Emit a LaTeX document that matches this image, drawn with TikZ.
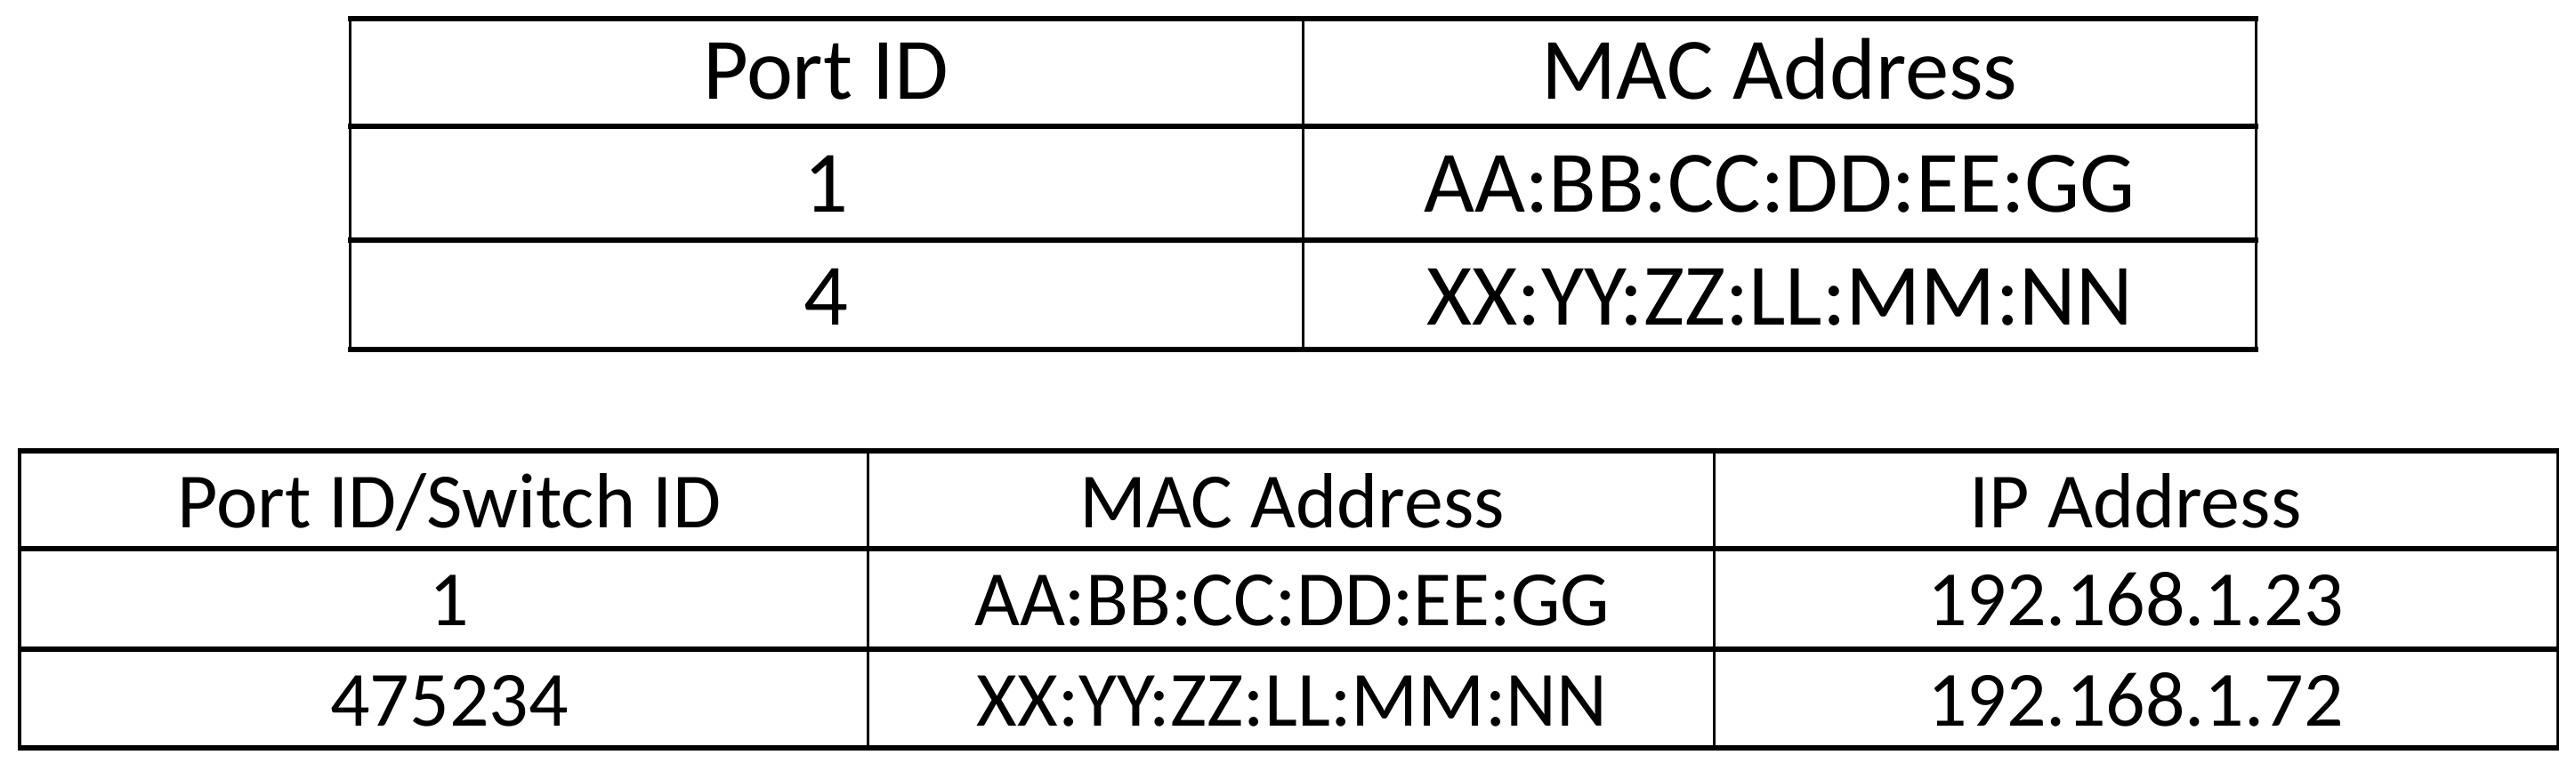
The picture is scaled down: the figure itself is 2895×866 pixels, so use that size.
\documentclass[tikz,border=0pt]{standalone}
\usepackage{fontspec}
\setmainfont{Carlito}
\begin{document}
\begin{tikzpicture}[x=0.01cm,y=-0.01cm,
  thick line/.style={line width=0.055cm},
  thin line/.style={line width=0.03cm},
  cell/.style={font=\fontsize{28}{30}\selectfont, inner sep=0pt, anchor=base},
  bcell/.style={font=\fontsize{25}{27}\selectfont, inner sep=0pt, anchor=base}]
\useasboundingbox (0,0) rectangle (2895,866);
% top table
\foreach \y in {21,142,270,393} \draw[thick line] (391,\y) -- (2538,\y);
\foreach \x in {393,1464,2535} \draw[thin line] (\x,21) -- (\x,393);
\node[cell] (t11) at (928,111) {Port ID};
\node[cell] (t12) at (2000,111) {MAC Address};
\node[cell] (t21) at (928,238) {1};
\node[cell] (t22) at (2000,238) {AA:BB:CC:DD:EE:GG};
\node[cell] (t31) at (928,365) {4};
\node[cell] (t32) at (2000,365) {XX:YY:ZZ:LL:MM:NN};
% bottom table
\foreach \y in {507,617,730,841} \draw[thick line] (20,\y) -- (2876,\y);
\foreach \x in {22,975,1926,2874} \draw[thin line] (\x,507) -- (\x,841);
\node[bcell] (b11) at (505,593) {Port ID/Switch ID};
\node[bcell] (b12) at (1452,593) {MAC Address};
\node[bcell] (b13) at (2400,593) {IP Address};
\node[bcell] (b21) at (505,703) {1};
\node[bcell] (b22) at (1452,703) {AA:BB:CC:DD:EE:GG};
\node[bcell] (b23) at (2400,703) {192.168.1.23};
\node[bcell] (b31) at (505,816) {475234};
\node[bcell] (b32) at (1452,816) {XX:YY:ZZ:LL:MM:NN};
\node[bcell] (b33) at (2400,816) {192.168.1.72};
\end{tikzpicture}
\end{document}
